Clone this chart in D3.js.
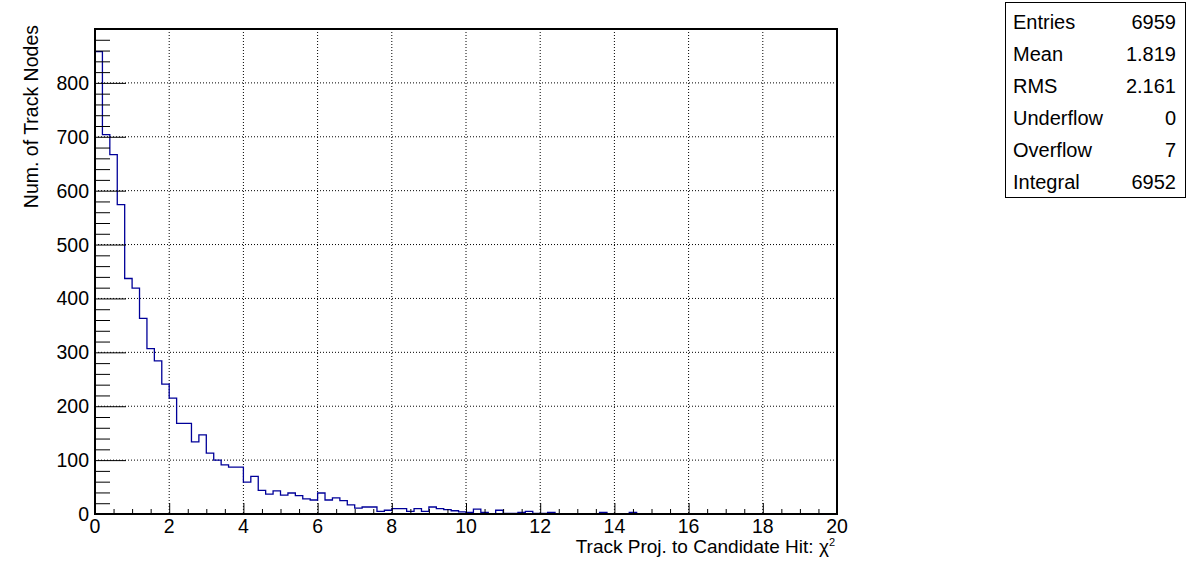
<!DOCTYPE html>
<html>
<head>
<meta charset="utf-8">
<script src="https://cdn.jsdelivr.net/npm/d3@7"></script>
<style>
  body { margin: 0; background: #fff; }
  svg { display: block; font-family: "Liberation Sans", Arial, Helvetica, sans-serif; }
  .grid line { stroke: #000; stroke-width: 1; stroke-dasharray: 1,2; }
</style>
</head>
<body>
<svg id="chart"></svg>
<script>
// counts per bin, 100 bins of width 0.2 from 0 to 20
var binCounts = [
  858, 704, 667, 574, 437, 419, 363, 307, 284, 241,
  215, 168, 168, 134, 147, 113, 100, 91, 87, 87,
  59, 70, 44, 37, 43, 35, 39, 34, 28, 26,
  39, 26, 30, 25, 17, 11, 13, 13, 5, 7,
  10, 10, 5, 10, 5, 13, 10, 8, 6, 4,
  3, 9, 3, 0, 7, 1, 1, 3, 5, 1,
  1, 3, 0, 0, 0, 0, 0, 0, 3, 0,
  0, 0, 3, 0, 0, 0, 0, 0, 0, 0,
  0, 0, 0, 0, 0, 0, 0, 0, 0, 0,
  0, 0, 0, 0, 0, 0, 0, 0, 0, 0
];
var xTicks = [0, 2, 4, 6, 8, 10, 12, 14, 16, 18, 20];
var yTicks = [0, 100, 200, 300, 400, 500, 600, 700, 800];
var statNames = ["Entries", "Mean", "RMS", "Underflow", "Overflow", "Integral"];
var statValues = ["6959", "1.819", "2.161", "0", "7", "6952"];

var svgWidth = 1196, svgHeight = 572;
var plot = {left: 95, right: 837, top: 29, bottom: 514};
var binWidth = 0.2;

var svg = d3.select("#chart").attr("width", svgWidth).attr("height", svgHeight);
svg.append("rect").attr("width", svgWidth).attr("height", svgHeight).attr("fill", "#fff");

var x = d3.scaleLinear().domain([0, 20]).range([plot.left, plot.right]);
var y = d3.scaleLinear().domain([0, 900]).range([plot.bottom, plot.top]);

// grid
var grid = svg.append("g").classed("grid", true);
grid.selectAll(".gx").data(xTicks.slice(1, -1)).enter().append("line")
  .attr("x1", d => x(d)).attr("x2", d => x(d))
  .attr("y1", plot.top).attr("y2", plot.bottom);
grid.selectAll(".gy").data(yTicks.slice(1)).enter().append("line")
  .attr("x1", plot.left).attr("x2", plot.right)
  .attr("y1", d => y(d)).attr("y2", d => y(d));

// histogram outline
var pts = [[0, 0]];
binCounts.forEach(function(c, i){ pts.push([i*binWidth, c]); });
pts.push([20, binCounts[binCounts.length-1]]);
var line = d3.line().x(d => x(d[0])).y(d => y(d[1])).curve(d3.curveStepAfter);
svg.append("path")
  .attr("d", line(pts))
  .attr("fill", "none")
  .attr("stroke", "#000099")
  .attr("stroke-width", 1.3);

// axes (ROOT style ticks drawn inward)
var xAxis = d3.axisBottom(x)
  .tickValues(d3.range(0, 20.001, 0.5))
  .tickSize(-5).tickFormat("");
var gx = svg.append("g").attr("transform", "translate(0," + plot.bottom + ")").call(xAxis);
gx.selectAll(".tick line").attr("y2", d => (Math.abs(d % 2) < 1e-6 ? -11 : -5));

var yAxis = d3.axisLeft(y)
  .tickValues(d3.range(0, 881, 20))
  .tickSize(-15).tickFormat("");
var gy = svg.append("g").attr("transform", "translate(" + plot.left + ",0)").call(yAxis);
gy.selectAll(".tick line").attr("x2", d => (d % 100 === 0 ? 31 : 15));
svg.selectAll(".domain").remove();
svg.selectAll(".tick line").attr("stroke", "#000").attr("stroke-width", 1);

// frame
svg.append("rect")
  .attr("x", plot.left).attr("y", plot.top)
  .attr("width", plot.right - plot.left).attr("height", plot.bottom - plot.top)
  .attr("fill", "none").attr("stroke", "#000").attr("stroke-width", 2);

// tick labels
svg.selectAll(".xl").data(xTicks).enter().append("text")
  .attr("x", d => x(d)).attr("y", 533)
  .attr("text-anchor", "middle")
  .style("font-size", "19.5px")
  .text(d => d);
svg.selectAll(".yl").data(yTicks).enter().append("text")
  .attr("x", 89).attr("y", d => y(d) + 7)
  .attr("text-anchor", "end")
  .style("font-size", "19.5px")
  .text(d => d);

// axis titles
svg.append("text")
  .attr("x", 835).attr("y", 553)
  .attr("text-anchor", "end")
  .style("font-size", "19px")
  .html('Track Proj. to Candidate Hit: χ<tspan dy="-7" font-size="11px">2</tspan>');
svg.append("text")
  .attr("transform", "translate(38," + (plot.top - 4) + ") rotate(-90)")
  .attr("text-anchor", "end")
  .style("font-size", "19.5px")
  .text("Num. of Track Nodes");

// stats box
var stats = svg.append("g").attr("transform", "translate(1005,2)");
stats.append("rect").attr("x", 0.5).attr("y", 0.5).attr("width", 180).attr("height", 195)
  .attr("fill", "#fff").attr("stroke", "#000").attr("stroke-width", 1);
var rowH = 32;
stats.selectAll(".sn").data(statNames).enter().append("text")
  .attr("x", 8).attr("y", (d, i) => 27 + i*rowH)
  .style("font-size", "20px")
  .text(d => d);
stats.selectAll(".sv").data(statValues).enter().append("text")
  .attr("x", 171).attr("y", (d, i) => 27 + i*rowH)
  .attr("text-anchor", "end")
  .style("font-size", "20px")
  .text(d => d);
</script>
</body>
</html>
